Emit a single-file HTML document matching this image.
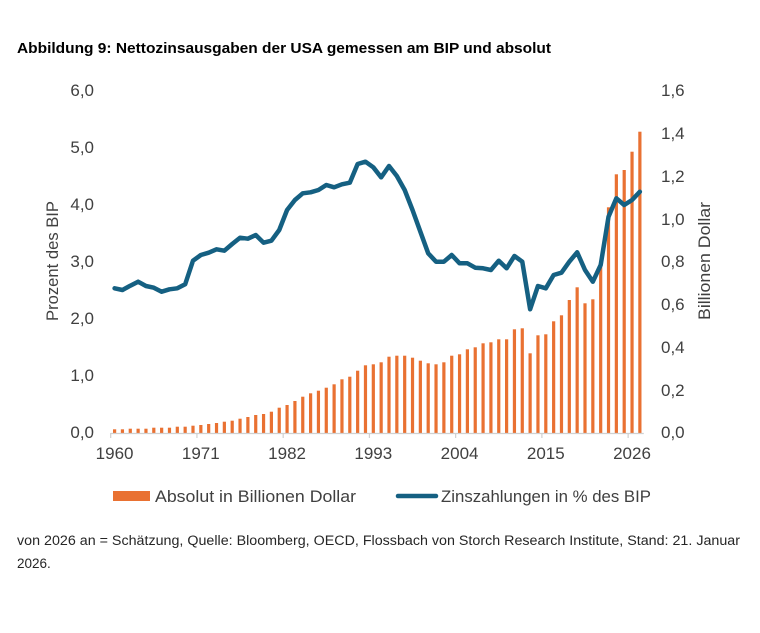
<!DOCTYPE html>
<html><head><meta charset="utf-8"><style>
html,body{margin:0;padding:0;background:#fff;}
svg{display:block;}
text{font-family:"Liberation Sans",Arial,sans-serif;}
</style></head><body>
<svg width="760" height="633" viewBox="0 0 760 633" xmlns="http://www.w3.org/2000/svg">
<rect width="760" height="633" fill="#fff"/>
<text x="17" y="53" font-size="14.5" font-weight="bold" fill="#000" textLength="534" lengthAdjust="spacingAndGlyphs">Abbildung 9: Nettozinsausgaben der USA gemessen am BIP und absolut</text>

<g font-size="17" fill="#404040" text-anchor="end">
<text x="94" y="96">6,0</text>
<text x="94" y="153">5,0</text>
<text x="94" y="210">4,0</text>
<text x="94" y="267">3,0</text>
<text x="94" y="324">2,0</text>
<text x="94" y="381">1,0</text>
<text x="94" y="438">0,0</text>
</g>
<g font-size="17" fill="#404040" text-anchor="start">
<text x="661" y="96">1,6</text>
<text x="661" y="139">1,4</text>
<text x="661" y="182">1,2</text>
<text x="661" y="225">1,0</text>
<text x="661" y="267">0,8</text>
<text x="661" y="310">0,6</text>
<text x="661" y="353">0,4</text>
<text x="661" y="396">0,2</text>
<text x="661" y="438">0,0</text>
</g>
<text transform="translate(58,261) rotate(-90)" font-size="17" fill="#404040" text-anchor="middle" textLength="120" lengthAdjust="spacingAndGlyphs">Prozent des BIP</text>
<text transform="translate(710,261) rotate(-90)" font-size="17" fill="#404040" text-anchor="middle" textLength="118" lengthAdjust="spacingAndGlyphs">Billionen Dollar</text>

<g font-size="17" fill="#404040" text-anchor="middle">
<text x="114.6" y="459">1960</text>
<text x="200.8" y="459">1971</text>
<text x="287.1" y="459">1982</text>
<text x="373.3" y="459">1993</text>
<text x="459.6" y="459">2004</text>
<text x="545.8" y="459">2015</text>
<text x="632.0" y="459">2026</text>
</g>

<g fill="#E97132">
<rect x="113.0" y="429.3" width="3.2" height="3.7"/>
<rect x="120.84" y="429.3" width="3.2" height="3.7"/>
<rect x="128.68" y="428.7" width="3.2" height="4.3"/>
<rect x="136.52" y="428.7" width="3.2" height="4.3"/>
<rect x="144.36" y="428.7" width="3.2" height="4.3"/>
<rect x="152.2" y="427.7" width="3.2" height="5.3"/>
<rect x="160.04" y="427.7" width="3.2" height="5.3"/>
<rect x="167.88" y="427.7" width="3.2" height="5.3"/>
<rect x="175.72" y="426.7" width="3.2" height="6.3"/>
<rect x="183.56" y="426.7" width="3.2" height="6.3"/>
<rect x="191.4" y="425.7" width="3.2" height="7.3"/>
<rect x="199.24" y="425" width="3.2" height="8"/>
<rect x="207.08" y="424" width="3.2" height="9"/>
<rect x="214.92" y="423" width="3.2" height="10"/>
<rect x="222.76" y="421.7" width="3.2" height="11.3"/>
<rect x="230.6" y="420.7" width="3.2" height="12.3"/>
<rect x="238.44" y="418.7" width="3.2" height="14.3"/>
<rect x="246.28" y="417" width="3.2" height="16"/>
<rect x="254.12" y="415" width="3.2" height="18"/>
<rect x="261.96" y="414" width="3.2" height="19"/>
<rect x="269.8" y="411.7" width="3.2" height="21.3"/>
<rect x="277.64" y="407.7" width="3.2" height="25.3"/>
<rect x="285.48" y="405" width="3.2" height="28"/>
<rect x="293.32" y="401" width="3.2" height="32"/>
<rect x="301.16" y="396.7" width="3.2" height="36.3"/>
<rect x="309.0" y="393.3" width="3.2" height="39.7"/>
<rect x="316.84" y="390.7" width="3.2" height="42.3"/>
<rect x="324.68" y="387.7" width="3.2" height="45.3"/>
<rect x="332.52" y="384.3" width="3.2" height="48.7"/>
<rect x="340.36" y="379.3" width="3.2" height="53.7"/>
<rect x="348.2" y="376.7" width="3.2" height="56.3"/>
<rect x="356.04" y="370.7" width="3.2" height="62.3"/>
<rect x="363.88" y="365.3" width="3.2" height="67.7"/>
<rect x="371.72" y="364.3" width="3.2" height="68.7"/>
<rect x="379.56" y="362.3" width="3.2" height="70.7"/>
<rect x="387.4" y="356.7" width="3.2" height="76.3"/>
<rect x="395.24" y="355.7" width="3.2" height="77.3"/>
<rect x="403.08" y="355.7" width="3.2" height="77.3"/>
<rect x="410.92" y="357.7" width="3.2" height="75.3"/>
<rect x="418.76" y="360.7" width="3.2" height="72.3"/>
<rect x="426.6" y="363.3" width="3.2" height="69.7"/>
<rect x="434.44" y="364.3" width="3.2" height="68.7"/>
<rect x="442.28" y="362.3" width="3.2" height="70.7"/>
<rect x="450.12" y="355.7" width="3.2" height="77.3"/>
<rect x="457.96" y="354.3" width="3.2" height="78.7"/>
<rect x="465.8" y="349.3" width="3.2" height="83.7"/>
<rect x="473.64" y="347.3" width="3.2" height="85.7"/>
<rect x="481.48" y="343.3" width="3.2" height="89.7"/>
<rect x="489.32" y="342.3" width="3.2" height="90.7"/>
<rect x="497.16" y="339.3" width="3.2" height="93.7"/>
<rect x="505.0" y="339.3" width="3.2" height="93.7"/>
<rect x="512.84" y="329.3" width="3.2" height="103.7"/>
<rect x="520.68" y="328.3" width="3.2" height="104.7"/>
<rect x="528.52" y="353.3" width="3.2" height="79.7"/>
<rect x="536.36" y="335.3" width="3.2" height="97.7"/>
<rect x="544.2" y="334.3" width="3.2" height="98.7"/>
<rect x="552.04" y="321.3" width="3.2" height="111.7"/>
<rect x="559.88" y="315.3" width="3.2" height="117.7"/>
<rect x="567.72" y="300" width="3.2" height="133"/>
<rect x="575.56" y="287.3" width="3.2" height="145.7"/>
<rect x="583.4" y="303.3" width="3.2" height="129.7"/>
<rect x="591.24" y="299.3" width="3.2" height="133.7"/>
<rect x="599.08" y="266" width="3.2" height="167"/>
<rect x="606.92" y="207.3" width="3.2" height="225.7"/>
<rect x="614.76" y="174.3" width="3.2" height="258.7"/>
<rect x="622.6" y="170" width="3.2" height="263"/>
<rect x="630.44" y="151.7" width="3.2" height="281.3"/>
<rect x="638.28" y="131.7" width="3.2" height="301.3"/>
</g>

<line x1="110.7" y1="433.5" x2="643.8" y2="433.5" stroke="#d0d0d0" stroke-width="1.2"/>
<g stroke="#d0d0d0" stroke-width="1.2">
<line x1="110.7" y1="433" x2="110.7" y2="438"/>
<line x1="196.94" y1="433" x2="196.94" y2="438"/>
<line x1="283.18" y1="433" x2="283.18" y2="438"/>
<line x1="369.42" y1="433" x2="369.42" y2="438"/>
<line x1="455.66" y1="433" x2="455.66" y2="438"/>
<line x1="541.9" y1="433" x2="541.9" y2="438"/>
<line x1="628.14" y1="433" x2="628.14" y2="438"/>
</g>

<polyline fill="none" stroke="#156082" stroke-width="4.5" stroke-linejoin="round" stroke-linecap="round" points="
114.6,288.3 122.44,290 130.28,285.7 138.12,281.7 145.96,286 153.8,287.7 161.64,291.7 169.48,289.3 177.32,288.3 185.16,284.3
193.0,260.7 200.84,255 208.68,252.7 216.52,249.3 224.36,250.7 232.2,244 240.04,237.7 247.88,238.7 255.72,235 263.56,242.7
271.4,240.7 279.24,230 287.08,210 294.92,200 302.76,193.3 310.6,192.3 318.44,190 326.28,185 334.12,187.3 341.96,184.3
349.8,182.7 357.64,164 365.48,161.7 373.32,167.3 381.16,177.3 389.0,166 396.84,176 404.68,190 412.52,210 420.36,231.7
428.2,253.3 436.04,261.7 443.88,261.7 451.72,255 459.56,263.3 467.4,263.3 475.24,267.7 483.08,268.3 490.92,270 498.76,260.7
506.6,268.3 514.44,256 522.28,261.7 530.12,309.3 537.96,286 545.8,288.3 553.64,275 561.48,272.7 569.32,261.7 577.16,252.3
585.0,270 592.84,281.7 600.68,265 608.52,216.7 616.36,198.3 624.2,205 632.04,200 639.88,191.7"/>

<rect x="113" y="491" width="37" height="10" fill="#E97132"/>
<text x="155" y="502" font-size="17" fill="#404040" textLength="201" lengthAdjust="spacingAndGlyphs">Absolut in Billionen Dollar</text>
<line x1="398" y1="496" x2="436" y2="496" stroke="#156082" stroke-width="4.5" stroke-linecap="round"/>
<text x="441" y="502" font-size="17" fill="#404040" textLength="210" lengthAdjust="spacingAndGlyphs">Zinszahlungen in % des BIP</text>

<text x="17" y="545" font-size="13.5" fill="#262626" textLength="723" lengthAdjust="spacingAndGlyphs">von 2026 an = Schätzung, Quelle: Bloomberg, OECD, Flossbach von Storch Research Institute, Stand: 21. Januar</text>
<text x="17" y="568" font-size="13.5" fill="#262626">2026.</text>
</svg>
</body></html>
